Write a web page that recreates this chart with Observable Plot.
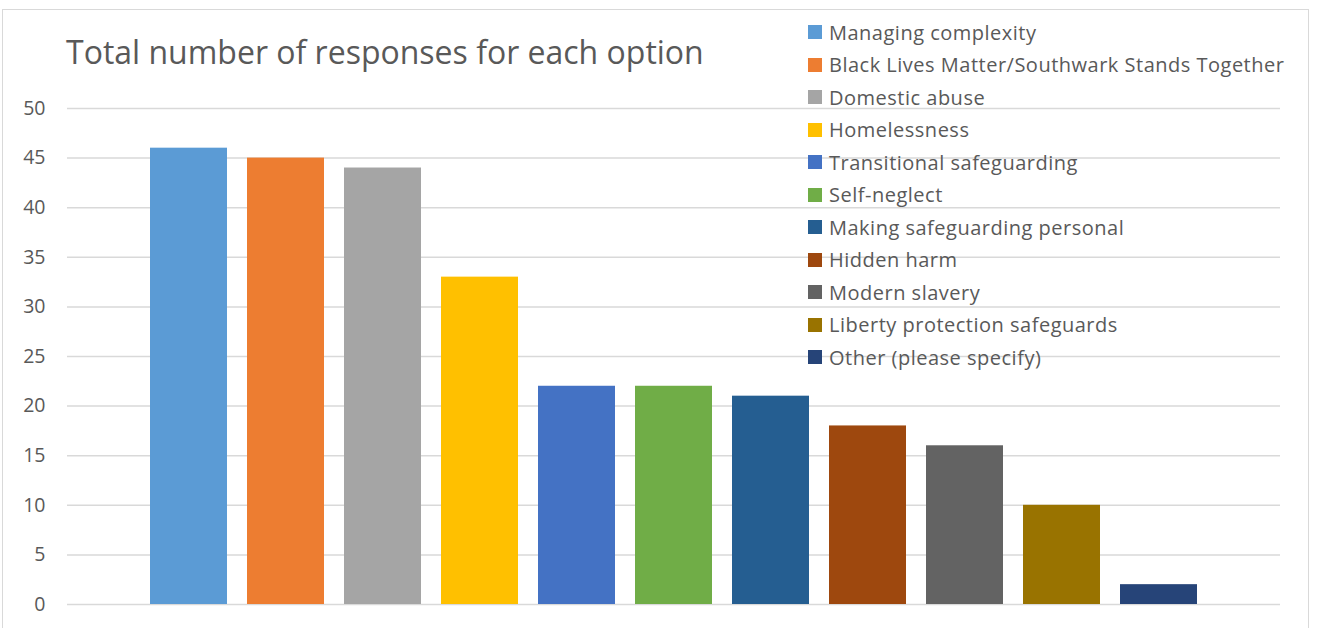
<!DOCTYPE html>
<html>
<head>
<meta charset="utf-8">
<script src="https://cdn.jsdelivr.net/npm/d3@7"></script>
<script src="https://cdn.jsdelivr.net/npm/@observablehq/plot@0.6"></script>
<style>
  html, body { margin: 0; padding: 0; background: #fff; }
  #wrap { position: relative; width: 1317px; height: 628px; overflow: hidden; font-family: "Open Sans", sans-serif; color: #595959; }
  #border { position: absolute; left: 2px; top: 9px; width: 1307px; height: 700px; border: 1.5px solid #d9d9d9; box-sizing: border-box; }
  #chart { position: absolute; left: 0; top: 0; }
  #title { position: absolute; left: 66px; top: 30px; font-size: 32px; line-height: 44px; white-space: nowrap; }
  #legend { position: absolute; left: 808px; top: 16px; font-size: 20px; letter-spacing: 0.5px; }
  .row { display: flex; align-items: center; height: 32.5px; white-space: nowrap; }
  .sw { width: 14px; height: 14px; margin-right: 7px; flex: none; }
</style>
</head>
<body>
<div id="wrap">
  <div id="border"></div>
  <div id="chart"></div>
  <div id="title">Total number of responses for each option</div>
  <div id="legend"></div>
</div>
<script>
const categories = [
  "Managing complexity",
  "Black Lives Matter/Southwark Stands Together",
  "Domestic abuse",
  "Homelessness",
  "Transitional safeguarding",
  "Self-neglect",
  "Making safeguarding personal",
  "Hidden harm",
  "Modern slavery",
  "Liberty protection safeguards",
  "Other (please specify)"
];
const responses = [46, 45, 44, 33, 22, 22, 21, 18, 16, 10, 2];
const colors = ["#5B9BD5", "#ED7D31", "#A5A5A5", "#FFC000", "#4472C4", "#70AD47", "#255E91", "#9E480E", "#636363", "#997300", "#264478"];
const yTicks = [0, 5, 10, 15, 20, 25, 30, 35, 40, 45, 50];

const data = categories.map((c, i) => ({category: c, value: responses[i]}));

const chart = Plot.plot({
  width: 1317,
  height: 628,
  marginLeft: 67,
  marginRight: 37,
  marginTop: 108,
  marginBottom: 24,
  style: {fontFamily: "'Open Sans', sans-serif", fontSize: "19.5px", color: "#595959", background: "transparent"},
  x: {type: "band", domain: categories, range: [140, 1207], paddingInner: 0.206, paddingOuter: 0.103, axis: null},
  y: {domain: [0, 50], ticks: yTicks, label: null},
  color: {domain: categories, range: colors},
  marks: [
    Plot.gridY(yTicks, {stroke: "#d9d9d9", strokeOpacity: 1, strokeWidth: 1.5}),
    Plot.axisY(yTicks, {tickSize: 0, tickPadding: 22, fontSize: 19.5, fill: "#595959", label: null}),
    Plot.barY(data, {x: "category", y: "value", fill: "category"})
  ]
});
document.getElementById("chart").appendChild(chart);

const legend = document.getElementById("legend");
categories.forEach((c, i) => {
  const row = document.createElement("div");
  row.className = "row";
  const sw = document.createElement("span");
  sw.className = "sw";
  sw.style.background = colors[i];
  const t = document.createElement("span");
  t.textContent = c;
  row.appendChild(sw);
  row.appendChild(t);
  legend.appendChild(row);
});
</script>
</body>
</html>
